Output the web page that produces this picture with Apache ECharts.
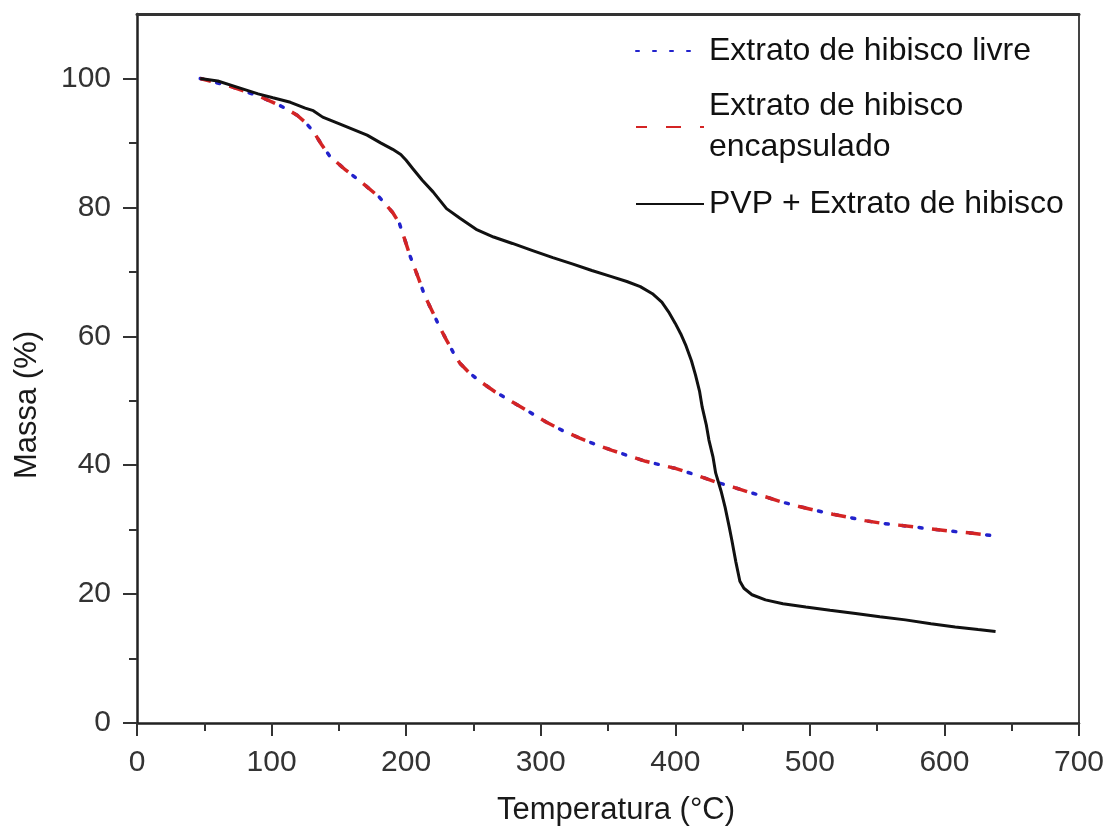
<!DOCTYPE html>
<html>
<head>
<meta charset="utf-8">
<script src="https://cdn.jsdelivr.net/npm/echarts@6/dist/echarts.min.js"></script>
<style>
html,body{margin:0;padding:0;background:#fff;}
#chart{width:1118px;height:830px;}
</style>
</head>
<body>
<div id="chart"></div>
<script>
// ---- Data ----
var seriesNames = ['Extrato de hibisco livre', 'Extrato de hibisco encapsulado', 'PVP + Extrato de hibisco'];
var xAxisTitle = 'Temperatura (°C)';
var yAxisTitle = 'Massa (%)';

var tempLivre = [47,60,72,90,101,110,119,125,131,137,143,155,168,180,190,195,199,203,209,214,220,225,230,235,240,247,255,266,279,292,304,316,329,341,353,366,378,390,400,415,430,443,455,467,479,492,504,517,529,541,553,566,578,590,603,618,635,639];
var massLivre = [100,99.3,98.6,97.3,96.3,95.4,94.3,93.2,91.8,89.8,88,85.8,83.7,81.6,79.2,77.5,75,72.4,69.1,66.2,63.6,61.4,59.4,57.5,55.8,54.3,53,51.4,49.8,48.2,46.7,45.4,44.2,43.2,42.3,41.4,40.6,40,39.5,38.5,37.4,36.6,35.8,35.1,34.3,33.6,33,32.4,31.9,31.4,31,30.7,30.4,30.1,29.8,29.5,29.1,29];

var tempEncap = [47,60,72,90,101,110,119,125,131,137,143,155,168,180,190,195,199,203,209,214,220,225,230,235,240,247,255,266,279,292,304,316,329,341,353,366,378,390,400,415,430,443,455,467,479,492,504,517,529,541,553,566,578,590,603,618,635,639];
var massEncap = [100,99.3,98.6,97.3,96.3,95.4,94.3,93.2,91.8,89.8,88,85.8,83.7,81.6,79.2,77.5,75,72.4,69.1,66.2,63.6,61.4,59.4,57.5,55.8,54.3,53,51.4,49.8,48.2,46.7,45.4,44.2,43.2,42.3,41.4,40.6,40,39.5,38.5,37.4,36.6,35.8,35.1,34.3,33.6,33,32.4,31.9,31.4,31,30.7,30.4,30.1,29.8,29.5,29.1,29];

var tempPVP = [47,60,72,90,101,114,125,131,138,150,171,181,190,196,200,205,212,220,230,240,252,265,279,294,309,324,338,352,364,374,383,390,395,400,404,408,412,415,418,420,423,425,428,430,434,437,440,442,445,448,451,457,467,480,497,515,534,552,571,590,608,625,638];
var massPVP = [100,99.6,98.8,97.6,97,96.3,95.4,95,94,93,91.2,90,89,88.2,87.3,86,84.2,82.4,79.8,78.3,76.6,75.4,74.4,73.3,72.2,71.2,70.2,69.3,68.5,67.7,66.6,65.3,63.8,62,60.4,58.5,56.2,54,51.5,49,46.3,43.9,41.3,38.8,36,33.5,30.5,28.4,25,22,20.9,19.9,19.1,18.5,18,17.5,17,16.5,16,15.4,14.9,14.5,14.2];

var yMajorTicks = [0,20,40,60,80,100];
var yMinorTicks = [10,30,50,70,90];

function zip(a, b) { return a.map(function (v, i) { return [v, b[i]]; }); }

var FONT = '"Liberation Sans", Arial, sans-serif';
var chart = echarts.init(document.getElementById('chart'), null, {renderer: 'canvas'});

var legendBase = {
  orient: 'vertical', left: 635, padding: 0, itemWidth: 68, itemHeight: 14,
  selectedMode: false,
  itemStyle: {color: 'rgba(0,0,0,0)', borderWidth: 0, opacity: 0},
  textStyle: {fontFamily: FONT, fontSize: 32, color: '#111'}
};

var option = {
  backgroundColor: '#fff',
  animation: false,
  grid: {left: 137, right: 39, top: 14, bottom: 107, containLabel: false},
  legend: [
    Object.assign({}, legendBase, {top: 35, data: [seriesNames[0]]}),
    Object.assign({}, legendBase, {top: 86, data: [seriesNames[1]],
      formatter: function () { return 'Extrato de hibisco\nencapsulado'; },
      textStyle: {fontFamily: FONT, fontSize: 32, color: '#111', lineHeight: 41}}),
    Object.assign({}, legendBase, {top: 188, data: [seriesNames[2]]})
  ],
  graphic: [{
    type: 'text', x: 616, y: 810,
    style: {text: xAxisTitle, font: '31px ' + FONT, fill: '#1a1a1a', align: 'center', verticalAlign: 'middle'}
  }, {
    type: 'text', x: 27, y: 405, rotation: Math.PI / 2,
    style: {text: yAxisTitle, font: '31px ' + FONT, fill: '#1a1a1a', align: 'center', verticalAlign: 'middle'}
  }],
  xAxis: [{
    type: 'value', min: 0, max: 700, interval: 100, position: 'bottom',
    axisLine: {show: true, lineStyle: {color: '#222', width: 2.5}},
    axisTick: {show: true, inside: false, length: 13, lineStyle: {color: '#333', width: 2}},
    minorTick: {show: true, splitNumber: 2, length: 8, lineStyle: {color: '#333', width: 2}},
    axisLabel: {fontFamily: FONT, fontSize: 30, color: '#333', margin: 25},
    splitLine: {show: false}
  }, {
    type: 'value', min: 0, max: 700, position: 'top',
    axisLine: {show: true, onZero: false, lineStyle: {color: '#333', width: 3}},
    axisTick: {show: false}, axisLabel: {show: false}, splitLine: {show: false}
  }],
  yAxis: [{
    type: 'value', min: 0, max: 110, position: 'left',
    axisLine: {show: true, onZero: false, lineStyle: {color: '#222', width: 2.5}},
    axisTick: {show: true, inside: false, length: 14, customValues: yMajorTicks, lineStyle: {color: '#333', width: 2}},
    axisLabel: {fontFamily: FONT, fontSize: 30, color: '#333', margin: 26, customValues: yMajorTicks},
    splitLine: {show: false}
  }, {
    type: 'value', min: 0, max: 110, position: 'left',
    axisLine: {show: false},
    axisTick: {show: true, inside: false, length: 8, customValues: yMinorTicks, lineStyle: {color: '#333', width: 2}},
    axisLabel: {show: false}, splitLine: {show: false}
  }, {
    type: 'value', min: 0, max: 110, position: 'right',
    axisLine: {show: true, onZero: false, lineStyle: {color: '#444', width: 2}},
    axisTick: {show: false}, axisLabel: {show: false}, splitLine: {show: false}
  }],
  series: [{
    name: seriesNames[0], type: 'line', symbol: 'none', smooth: false,
    data: zip(tempLivre, massLivre),
    lineStyle: {color: '#2222cc', width: 3.5, type: [3, 14], cap: 'round'},
    itemStyle: {color: '#2222cc'}, z: 2
  }, {
    name: seriesNames[1], type: 'line', symbol: 'none', smooth: false,
    data: zip(tempEncap, massEncap),
    lineStyle: {color: '#d42424', width: 3.5, type: [15, 19], dashOffset: 4},
    itemStyle: {color: '#d42424'}, z: 3
  }, {
    name: seriesNames[2], type: 'line', symbol: 'none', smooth: false,
    data: zip(tempPVP, massPVP),
    lineStyle: {color: '#111', width: 3},
    itemStyle: {color: '#111'}, z: 4
  }]
};
chart.setOption(option);
</script>
</body>
</html>
